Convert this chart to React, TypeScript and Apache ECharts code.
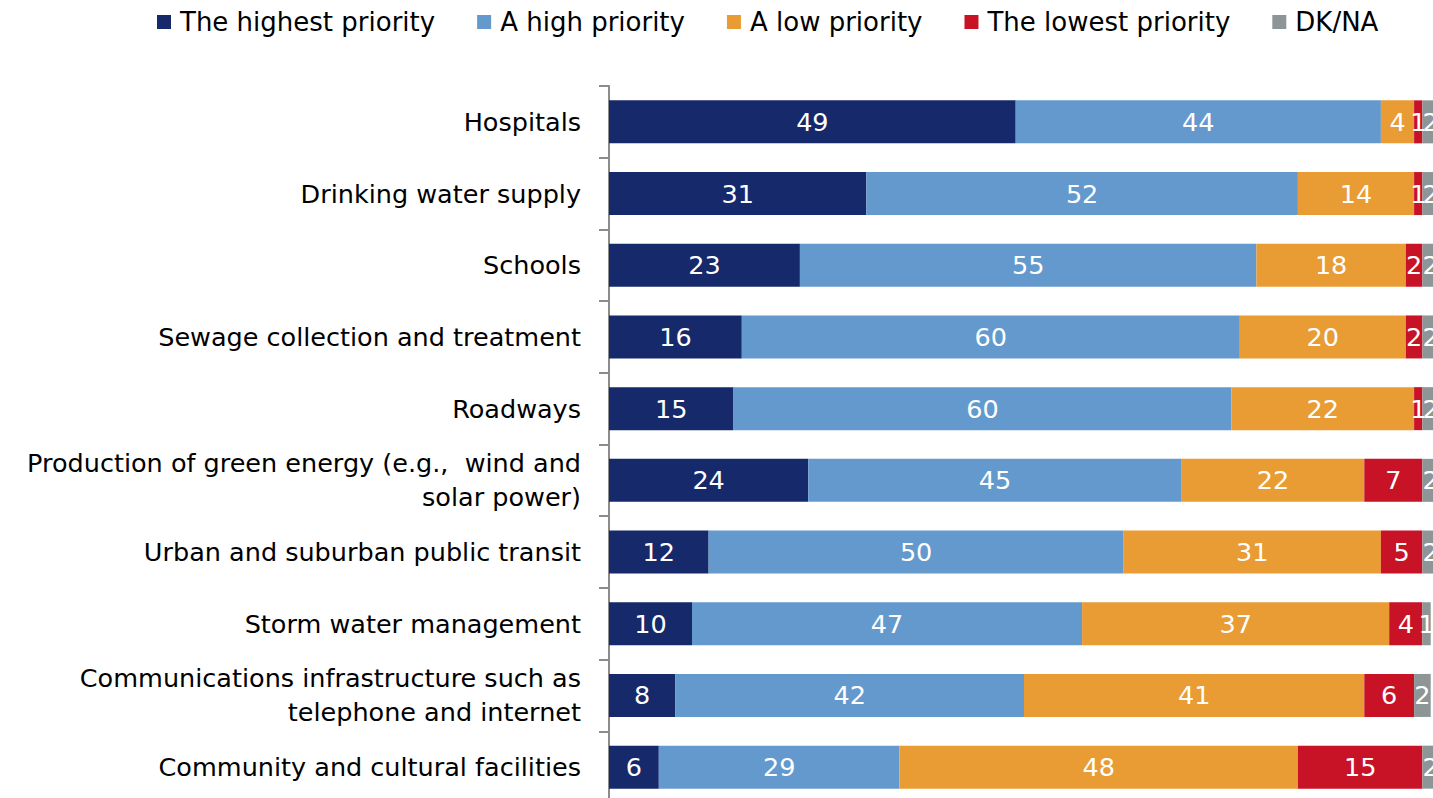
import React, { useEffect, useRef } from "react";
import * as echarts from "echarts";

const categories = [
  "Hospitals",
  "Drinking water supply",
  "Schools",
  "Sewage collection and treatment",
  "Roadways",
  "Production of green energy (e.g.,  wind and\nsolar power)",
  "Urban and suburban public transit",
  "Storm water management",
  "Communications infrastructure such as\ntelephone and internet",
  "Community and cultural facilities",
];

const seriesNames = [
  "The highest priority",
  "A high priority",
  "A low priority",
  "The lowest priority",
  "DK/NA",
];

const highest = [49, 31, 23, 16, 15, 24, 12, 10, 8, 6];
const high = [44, 52, 55, 60, 60, 45, 50, 47, 42, 29];
const low = [4, 14, 18, 20, 22, 22, 31, 37, 41, 48];
const lowest = [1, 1, 2, 2, 1, 7, 5, 4, 6, 15];
const dkna = [2, 2, 2, 2, 2, 2, 2, 1, 2, 2];

const colors = ["#16296B", "#6499CE", "#E99B34", "#C81226", "#8E9597"];

const FONT = "DejaVu Sans";

export default function App() {
  const ref = useRef<HTMLDivElement>(null);
  useEffect(() => {
    if (!ref.current) return;
    const chart = echarts.init(ref.current, null, { renderer: "svg" });
    const data = [highest, high, low, lowest, dkna];
    chart.setOption({
      animation: false,
      color: colors,
      textStyle: { fontFamily: FONT },
      legend: {
        top: 4,
        left: 152,
        itemWidth: 14,
        itemHeight: 14,
        itemGap: 42,
        icon: "rect",
        textStyle: { fontFamily: FONT, fontSize: 26, color: "#000", padding: [0, 0, 0, 4] },
        data: seriesNames,
      },
      grid: { left: 609, right: 0, top: 86, bottom: 0, containLabel: false },
      xAxis: {
        type: "value",
        min: 0,
        max: 100,
        show: false,
        splitLine: { show: false },
      },
      yAxis: {
        type: "category",
        inverse: true,
        data: categories,
        axisLine: { show: true, lineStyle: { color: "#8C8C8C", width: 2 } },
        axisTick: { show: true, length: 10, lineStyle: { color: "#8C8C8C", width: 2 } },
        axisLabel: {
          margin: 28,
          fontFamily: FONT,
          fontSize: 25.5,
          color: "#000",
          lineHeight: 34,
          align: "right",
        },
      },
      series: seriesNames.map((name, i) => ({
        name,
        type: "bar",
        stack: "total",
        barWidth: 43,
        data: data[i],
        label: {
          show: true,
          position: "inside",
          color: "#fff",
          fontFamily: FONT,
          fontSize: 25.5,
        },
        itemStyle: { color: colors[i] },
      })),
    });
    return () => chart.dispose();
  }, []);
  return (
    <div
      style={{
        position: "absolute",
        left: 0,
        top: 0,
        width: 1433,
        height: 798,
        overflow: "hidden",
      }}
    >
      <div ref={ref} style={{ width: 1439, height: 803 }} />
    </div>
  );
}
